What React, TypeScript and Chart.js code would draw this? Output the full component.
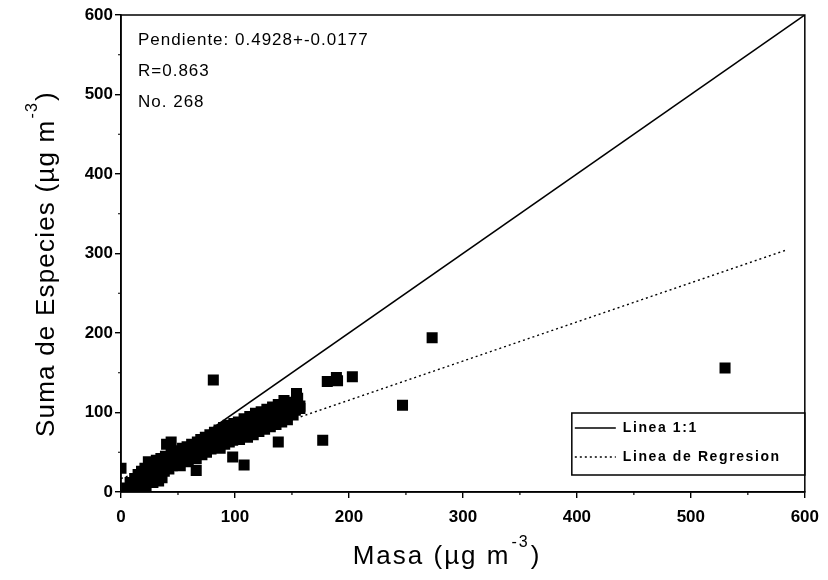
import React, { useEffect, useRef } from 'react';
import { Chart, registerables } from 'chart.js';

Chart.register(...registerables);

// ---- Data ----
const masa: number[] = [
  0, 81, 177, 181, 189, 190, 203, 247, 273, 530, 138, 108, 98, 40, 44, 22, 66, 154, 157, 148,
  6, 10, 14, 17, 28, 33, 36,
  5, 8, 10, 12, 14, 15, 17, 18, 19, 20, 21, 22, 23, 24, 26, 27, 28, 29, 30, 31, 32, 33, 34, 35,
  36, 37, 38, 39, 41, 42, 43, 44, 45, 46, 47, 48, 49, 50, 51, 52, 53, 54, 55, 56, 57, 58, 59, 60,
  61, 62, 63, 64, 65, 66, 67, 68, 69, 70, 71, 72, 73, 74, 75, 76, 77, 78, 79, 80, 81, 82, 83, 84,
  85, 86, 87, 88, 89, 90, 91, 92, 93, 94, 95, 96, 97, 98, 99, 100, 101, 102, 103, 104, 105, 106,
  107, 108, 109, 110, 111, 112, 113, 114, 115, 116, 117, 118, 119, 120, 121, 122, 123, 124, 125,
  126, 127, 128, 129, 130, 131, 132, 133, 134, 135, 136, 137, 138, 139, 140, 141, 142, 143, 144,
  145, 146, 147, 148, 150, 151, 152, 153, 155, 157,
];
const especies: number[] = [
  30, 141, 65, 139, 144, 140, 145, 109, 194, 156, 63, 34, 44, 60, 63, 3, 27, 124, 105, 113,
  3, 6, 3, 9, 12, 14, 18,
  5, 12, 8, 17, 10, 22, 15, 26, 12, 20, 30, 16, 24, 38, 19, 28, 35, 22, 31, 40, 25, 34, 28, 42,
  31, 37, 26, 45, 35, 29, 40, 48, 33, 38, 45, 52, 36, 42, 49, 33, 46, 55, 40, 50, 44, 57, 38, 48,
  53, 60, 45, 51, 58, 42, 63, 49, 55, 66, 47, 60, 53, 69, 50, 58, 64, 72, 54, 61, 68, 75, 57, 64,
  71, 78, 55, 67, 74, 81, 60, 70, 77, 84, 63, 72, 80, 65, 86, 75, 68, 82, 88, 66, 78, 71,
  85, 92, 74, 81, 69, 88, 95, 77, 84, 72, 91, 99, 80, 87, 76, 94, 101, 83, 90,
  79, 97, 104, 86, 93, 82, 100, 107, 89, 96, 85, 103, 110, 92, 99, 88, 106, 115, 95,
  102, 91, 109, 100, 106, 97, 112, 103, 118, 108,
];

const linea11X: number[] = [0, 600];
const linea11Y: number[] = [0, 600];
const regresionX: number[] = [0, 583];
const regresionY: number[] = [17, 304];

const ticksMayores: number[] = [0, 100, 200, 300, 400, 500, 600];
const ticksMenores: number[] = [50, 150, 250, 350, 450, 550];

const anotaciones: string[] = ['Pendiente: 0.4928+-0.0177', 'R=0.863', 'No. 268'];
const leyenda: string[] = ['Linea 1:1', 'Linea de Regresion'];
const tituloX: string[] = ['Masa (µg m', '-3', ')'];
const tituloY: string[] = ['Suma de Especies (µg m', '-3', ')'];

const FONT = '"Liberation Sans", Arial, Helvetica, sans-serif';

function drawSupTitle(ctx: CanvasRenderingContext2D, parts: string[], size: number, spacing: number) {
  const supSize = Math.round(size * 0.6);
  (ctx as any).letterSpacing = `${spacing}px`;
  ctx.font = `${size}px ${FONT}`;
  const w0 = ctx.measureText(parts[0]).width;
  const w2 = ctx.measureText(parts[2]).width;
  ctx.font = `${supSize}px ${FONT}`;
  const w1 = ctx.measureText(parts[1]).width;
  const total = w0 + w1 + w2 + 2;
  let x = -total / 2;
  ctx.textBaseline = 'alphabetic';
  ctx.textAlign = 'left';
  ctx.font = `${size}px ${FONT}`;
  ctx.fillText(parts[0], x, size * 0.36);
  x += w0 + 1;
  ctx.font = `${supSize}px ${FONT}`;
  ctx.fillText(parts[1], x, -size * 0.32);
  x += w1 + 1;
  ctx.font = `${size}px ${FONT}`;
  ctx.fillText(parts[2], x, size * 0.36);
  (ctx as any).letterSpacing = '0px';
}

const decorPlugin = {
  id: 'decor',
  afterDraw(chart: any) {
    const { ctx, chartArea: a, scales } = chart;
    ctx.save();
    ctx.fillStyle = '#000';
    ctx.strokeStyle = '#000';

    // frame
    ctx.lineWidth = 1.5;
    ctx.strokeRect(a.left, a.top, a.right - a.left, a.bottom - a.top);

    // minor ticks
    ctx.lineWidth = 1.2;
    ctx.beginPath();
    for (const v of ticksMenores) {
      const px = scales.x.getPixelForValue(v);
      ctx.moveTo(px, a.bottom);
      ctx.lineTo(px, a.bottom + 3);
      const py = scales.y.getPixelForValue(v);
      ctx.moveTo(a.left, py);
      ctx.lineTo(a.left - 3, py);
    }
    ctx.stroke();

    // annotations
    ctx.font = `17px ${FONT}`;
    (ctx as any).letterSpacing = '1px';
    ctx.textAlign = 'left';
    ctx.textBaseline = 'middle';
    anotaciones.forEach((t, i) => {
      ctx.fillText(t, a.left + 17, a.top + 25 + i * 31);
    });
    (ctx as any).letterSpacing = '0px';

    // legend box
    const lx0 = a.right - 233;
    const ly0 = a.bottom - 79;
    const lx1 = a.right;
    const ly1 = a.bottom - 17;
    ctx.fillStyle = '#fff';
    ctx.fillRect(lx0, ly0, lx1 - lx0, ly1 - ly0);
    ctx.fillStyle = '#000';
    ctx.lineWidth = 1.5;
    ctx.strokeRect(lx0, ly0, lx1 - lx0, ly1 - ly0);
    ctx.font = `bold 14px ${FONT}`;
    ctx.textBaseline = 'middle';
    const rows = [ly0 + 15, ly0 + 44];
    ctx.lineWidth = 1.3;
    ctx.beginPath();
    ctx.setLineDash([]);
    ctx.moveTo(lx0 + 3, rows[0]);
    ctx.lineTo(lx0 + 44, rows[0]);
    ctx.stroke();
    ctx.beginPath();
    ctx.setLineDash([2, 3]);
    ctx.moveTo(lx0 + 3, rows[1]);
    ctx.lineTo(lx0 + 44, rows[1]);
    ctx.stroke();
    ctx.setLineDash([]);
    (ctx as any).letterSpacing = '1.6px';
    leyenda.forEach((t, i) => ctx.fillText(t, lx0 + 51, rows[i]));
    (ctx as any).letterSpacing = '0px';

    // axis titles
    ctx.save();
    ctx.translate(447, 555);
    drawSupTitle(ctx, tituloX, 26, 2);
    ctx.restore();

    ctx.save();
    ctx.translate(45, 264);
    ctx.rotate(-Math.PI / 2);
    drawSupTitle(ctx, tituloY, 26, 1.2);
    ctx.restore();

    ctx.restore();
  },
};

export default function App() {
  const ref = useRef<HTMLCanvasElement | null>(null);

  useEffect(() => {
    if (!ref.current) return;
    const puntos = masa.map((m, i) => ({ x: m, y: especies[i] }));
    const l11 = linea11X.map((x, i) => ({ x, y: linea11Y[i] }));
    const reg = regresionX.map((x, i) => ({ x, y: regresionY[i] }));

    const chart = new Chart(ref.current, {
      type: 'scatter',
      data: {
        datasets: [
          {
            type: 'line',
            label: leyenda[0],
            data: l11,
            borderColor: '#000',
            borderWidth: 1.6,
            pointRadius: 0,
            showLine: true,
            fill: false,
          } as any,
          {
            type: 'line',
            label: leyenda[1],
            data: reg,
            borderColor: '#000',
            borderWidth: 1.4,
            borderDash: [2, 3],
            pointRadius: 0,
            showLine: true,
            fill: false,
          } as any,
          {
            label: 'Datos',
            data: puntos,
            pointStyle: 'rect',
            pointRadius: 7.8,
            backgroundColor: '#000',
            borderColor: '#000',
            borderWidth: 0,
          },
        ],
      },
      options: {
        animation: false,
        responsive: false,
        maintainAspectRatio: false,
        events: [],
        layout: { padding: { top: 15, right: 22, bottom: 0, left: 0 } },
        plugins: {
          legend: { display: false },
          tooltip: { enabled: false },
        },
        scales: {
          x: {
            type: 'linear',
            min: 0,
            max: 600,
            afterFit: (s: any) => {
              s.height = 88;
            },
            afterBuildTicks: (s: any) => {
              s.ticks = ticksMayores.map((v) => ({ value: v }));
            },
            ticks: {
              color: '#000',
              font: { size: 17, family: FONT, weight: 'bold' },
              padding: 9,
              maxRotation: 0,
            },
            grid: {
              drawOnChartArea: false,
              drawTicks: true,
              tickLength: 6,
              color: '#000',
              lineWidth: 1.4,
            },
            border: { display: true, color: '#000', width: 1.5 },
          },
          y: {
            type: 'linear',
            min: 0,
            max: 600,
            afterFit: (s: any) => {
              s.width = 121;
            },
            afterBuildTicks: (s: any) => {
              s.ticks = ticksMayores.map((v) => ({ value: v }));
            },
            ticks: {
              color: '#000',
              font: { size: 17, family: FONT, weight: 'bold' },
              padding: 2,
            },
            grid: {
              drawOnChartArea: false,
              drawTicks: true,
              tickLength: 6,
              color: '#000',
              lineWidth: 1.4,
            },
            border: { display: true, color: '#000', width: 1.5 },
          },
        },
      },
      plugins: [decorPlugin],
    });

    return () => chart.destroy();
  }, []);

  return (
    <div style={{ position: 'absolute', left: 0, top: 0, width: 828, height: 580, background: '#fff' }}>
      <canvas ref={ref} width={828} height={580} style={{ display: 'block' }} />
    </div>
  );
}
